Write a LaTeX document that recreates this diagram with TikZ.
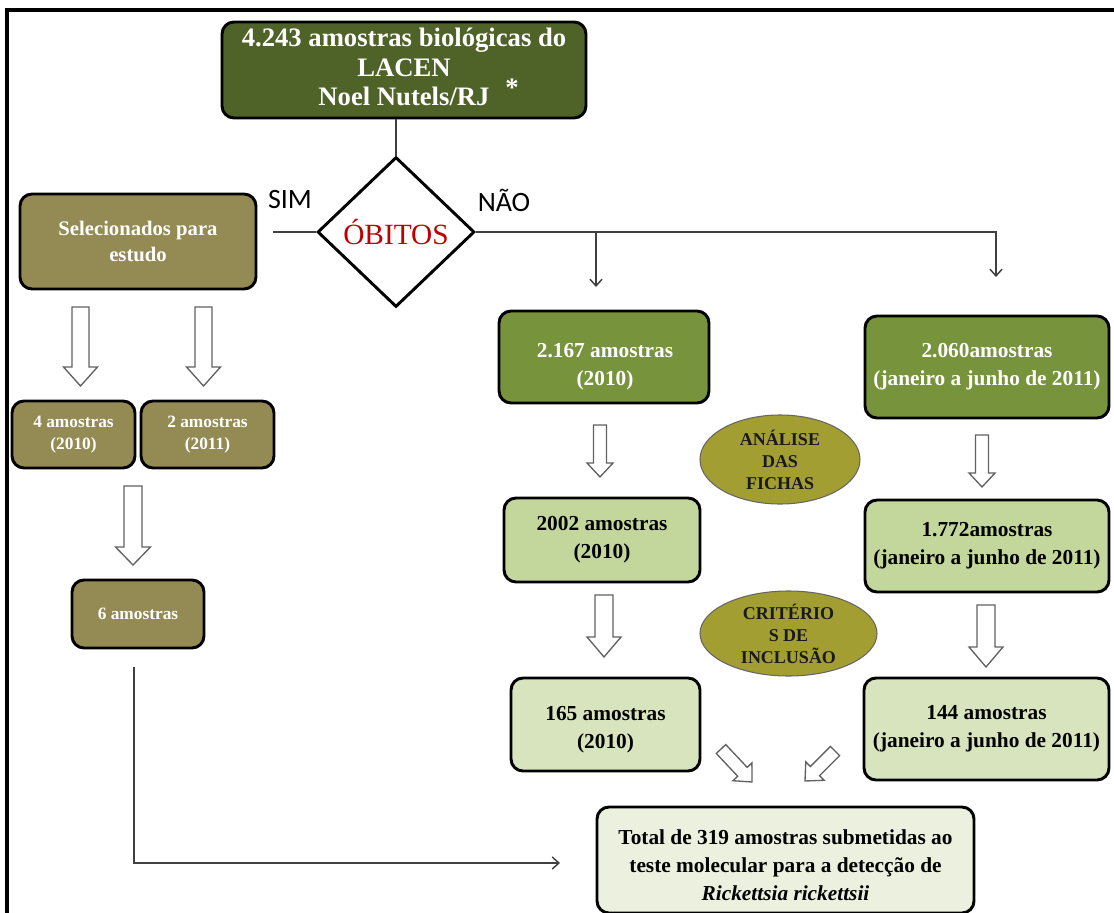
\documentclass[tikz,border=0pt]{standalone}
\usepackage{fontspec}
\setmainfont{Liberation Serif}
\newfontfamily\sansf{Carlito}
\usetikzlibrary{shapes.geometric,arrows.meta,calc}
\definecolor{cTop}{HTML}{4F6228}
\definecolor{cOlive}{HTML}{948A54}
\definecolor{cGreen}{HTML}{77933C}
\definecolor{cLightA}{HTML}{C3D69B}
\definecolor{cLightB}{HTML}{D7E4BD}
\definecolor{cLightC}{HTML}{EBF1DE}
\definecolor{cEll}{HTML}{A39E32}
\definecolor{cRed}{HTML}{C00000}
\definecolor{cLine}{HTML}{404040}
\tikzset{
  box/.style={draw=black, line width=2.2pt, rounded corners=9pt, inner sep=0pt, align=center},
  txt/.style={inner sep=0pt, align=center},
  fbig/.style={font=\bfseries\fontsize{20}{22}\selectfont},
  fmid/.style={font=\bfseries\fontsize{16}{21}\selectfont},
  fsel/.style={font=\bfseries\fontsize{15.5}{20}\selectfont},
  fsmall/.style={font=\bfseries\fontsize{13}{16.5}\selectfont},
  ellbox/.style={ellipse, draw=black!60, line width=0.8pt, fill=cEll, inner sep=0pt, align=center, text=black!90, font=\bfseries\fontsize{13.5}{16.5}\selectfont},
  thinarrow/.style={draw=cLine, line width=1.1pt, -{Straight Barb[length=5pt,width=9pt]}},
  thinline/.style={draw=cLine, line width=1.1pt},
  barrowline/.style={draw=black!62, fill=white, line width=1pt, line join=miter},
}
% block arrow: from, to, half shaft (px), half head (px), head length (px)
\newcommand\barrow[5]{%
  \draw[barrowline] let \p1=(#1), \p2=(#2), \n1={atan2(\y2-\y1,\x2-\x1)}, \n2={veclen(\x2-\x1,\y2-\y1)} in
    [shift={(\p1)}, rotate=\n1]
    (0pt,{-#3*0.75pt}) -- ({\n2*1pt-#5*0.75pt},{-#3*0.75pt}) -- ({\n2*1pt-#5*0.75pt},{-#4*0.75pt})
    -- ({\n2*1pt},0pt) -- ({\n2*1pt-#5*0.75pt},{#4*0.75pt}) -- ({\n2*1pt-#5*0.75pt},{#3*0.75pt})
    -- (0pt,{#3*0.75pt}) -- cycle;}
\begin{document}
\begin{tikzpicture}[x=0.75pt,y=-0.75pt]
\useasboundingbox (0,0) rectangle (1114,913);
\fill[white] (0,0) rectangle (1114,913);
% frame
\draw[line width=2.3pt] (7,913) -- (7,10) -- (1114,10);

% top
\node[box, fill=cTop, text=white, fbig, minimum width=273pt, minimum height=72pt] (top) at (404,70) {};
\node[txt, text=white, fbig] (toptxt) at (404,67) {4.243 amostras biológicas do\\LACEN\\Noel Nutels/RJ};
\node[text=white, font=\bfseries\fontsize{20}{20}\selectfont] (star) at (512,88) {*};

% decision
\node[diamond, draw=black, line width=2.2pt, fill=white, minimum width=117.75pt, minimum height=112.5pt, inner sep=0pt, text=cRed, font=\fontsize{22}{24}\selectfont] (dia) at (396,232) {ÓBITOS};
\node[font=\sansf\fontsize{21}{24}\selectfont] (sim) at (290,200) {SIM};
\node[font=\sansf\fontsize{21}{24}\selectfont] (nao) at (504,200) {NÃO};

% left branch
\node[box, fill=cOlive, text=white, fsel, minimum width=177pt, minimum height=71.25pt] (sel) at (138,241.5) {Selecionados para\\estudo};
\node[box, fill=cOlive, text=white, fsmall, minimum width=92.25pt, minimum height=50.25pt] (a4) at (73.5,434.5) {4 amostras\\(2010)};
\node[box, fill=cOlive, text=white, fsmall, minimum width=99.75pt, minimum height=50.25pt] (a2) at (207.5,434.5) {2 amostras\\(2011)};
\node[box, fill=cOlive, text=white, fsmall, minimum width=99pt, minimum height=51pt] (a6) at (138,614) {6 amostras};

% right branch
\node[box, fill=cGreen, minimum width=157.5pt, minimum height=69pt] (b1) at (604,357) {};
\node[txt, text=white, fmid] (b1txt) at (605,367) {2.167 amostras\\(2010)};
\node[box, fill=cGreen, text=white, fmid, minimum width=183pt, minimum height=76.5pt] (b2) at (987,367) {2.060amostras\\(janeiro a junho de 2011)};
\node[box, fill=cLightA, text=black, fmid, minimum width=147pt, minimum height=63pt] (c1) at (602,540) {2002 amostras\\(2010)};
\node[box, fill=cLightA, text=black, fmid, minimum width=183pt, minimum height=69pt] (c2) at (987,546) {1.772amostras\\(janeiro a junho de 2011)};
\node[box, fill=cLightB, minimum width=141.75pt, minimum height=69.75pt] (d1) at (605.5,724.5) {};
\node[txt, text=black, fmid] (d1txt) at (605.5,729.5) {165 amostras\\(2010)};
\node[box, fill=cLightB, text=black, fmid, minimum width=183.75pt, minimum height=76.5pt] (d2) at (986.5,729) {144 amostras\\(janeiro a junho de 2011)};
\node[box, fill=cLightC, minimum width=282.75pt, minimum height=79.5pt] (tot) at (785.5,860) {};
\node[txt, text=black, fmid] (tottxt) at (785.5,865) {Total de 319 amostras submetidas ao\\teste molecular para a detecção de\\\textit{Rickettsia rickettsii}};

\node[ellbox, minimum width=120pt, minimum height=66.75pt] (e1) at (780,459.5) {ANÁLISE\\DAS\\FICHAS};
\node[ellbox, minimum width=132.75pt, minimum height=63.75pt] (e2) at (788.5,633.5) {CRITÉRIO\\S DE\\INCLUSÃO};

% thin connectors
\coordinate (simend) at (273,232);
\coordinate (nbr) at (596,232);
\coordinate (nend1) at (596,287);
\coordinate (ncorner) at (996,232);
\coordinate (nend2) at (996,277);
\coordinate (lstart) at (134,667);
\coordinate (lend) at (560,863);
\draw[thinline] (top.south -| dia.north) -- (dia.north);
\draw[thinline] (dia.west) -- (simend);
\draw[thinarrow] (dia.east) -- (ncorner) -- (nend2);
\draw[thinarrow] (nbr) -- (nend1);
\draw[thinarrow] (lstart) |- (lend);

% block arrows
\coordinate (p1s) at (80.5,307);  \coordinate (p1e) at (80.5,386);
\coordinate (p2s) at (203.5,307); \coordinate (p2e) at (203.5,386);
\coordinate (p3s) at (133,486);   \coordinate (p3e) at (133,565);
\coordinate (p4s) at (600,425);   \coordinate (p4e) at (600,477);
\coordinate (p5s) at (982,435);   \coordinate (p5e) at (982,487);
\coordinate (p6s) at (604,595);   \coordinate (p6e) at (604,657);
\coordinate (p7s) at (986,605);   \coordinate (p7e) at (986,667);
\coordinate (p8s) at (721,749);   \coordinate (p8e) at (752,782);
\coordinate (p9s) at (835,751);   \coordinate (p9e) at (805,781);
\barrow{p1s}{p1e}{8.5}{17}{19}
\barrow{p2s}{p2e}{8.5}{17}{19}
\barrow{p3s}{p3e}{9}{17.5}{18}
\barrow{p4s}{p4e}{6.5}{13}{14}
\barrow{p5s}{p5e}{6.5}{13}{14}
\barrow{p6s}{p6e}{9}{17}{20}
\barrow{p7s}{p7e}{9}{17}{20}
\barrow{p8s}{p8e}{6.5}{13}{14}
\barrow{p9s}{p9e}{6.5}{13}{14}
\end{tikzpicture}
\end{document}
